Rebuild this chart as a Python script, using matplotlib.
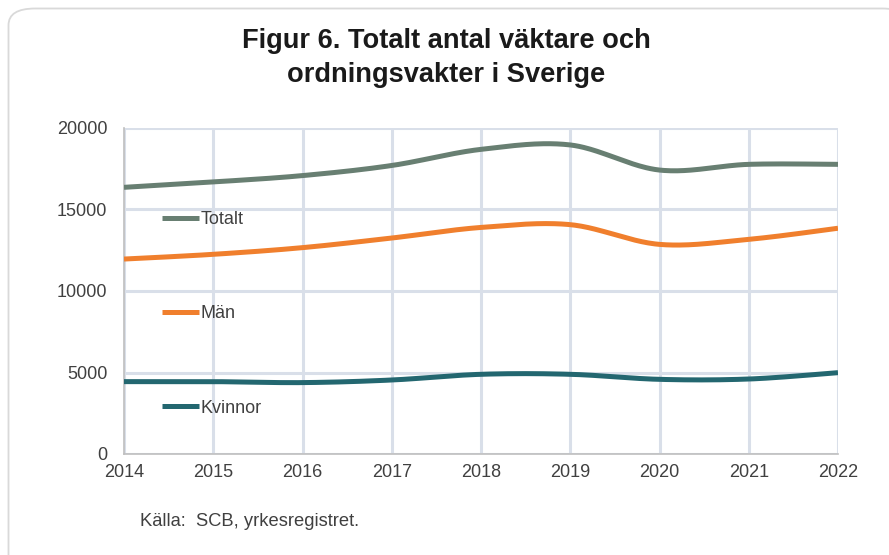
import numpy as np
import matplotlib
matplotlib.use("Agg")
import matplotlib.pyplot as plt
from matplotlib.patches import FancyBboxPatch

plt.rcParams['font.family'] = ['Liberation Sans', 'DejaVu Sans']

years = [2014, 2015, 2016, 2017, 2018, 2019, 2020, 2021, 2022]
totalt = [16360, 16690, 17080, 17700, 18690, 18960, 17420, 17770, 17770]
man = [11960, 12250, 12660, 13250, 13900, 14070, 12860, 13170, 13850]
kvinnor = [4440, 4440, 4380, 4540, 4890, 4890, 4580, 4600, 4990]
series_names = ["Totalt", "Män", "Kvinnor"]
colors = ["#687f72", "#f07f2d", "#236770"]
yticks = [0, 5000, 10000, 15000, 20000]

title = "Figur 6. Totalt antal väktare och\nordningsvakter i Sverige"
source = "Källa:  SCB, yrkesregistret."


def smooth(x, y, n=40):
    """Excel-style smoothed line (Catmull-Rom Bezier through the points)."""
    x = np.asarray(x, float)
    y = np.asarray(y, float)
    P = np.column_stack([x, y])
    Pext = np.vstack([P[0], P, P[-1]])
    out = []
    for i in range(len(P) - 1):
        p0, p1, p2, p3 = Pext[i], Pext[i + 1], Pext[i + 2], Pext[i + 3]
        c1 = p1 + (p2 - p0) / 6.0
        c2 = p2 - (p3 - p1) / 6.0
        t = np.linspace(0, 1, n, endpoint=(i == len(P) - 2))[:, None]
        b = ((1 - t) ** 3) * p1 + 3 * ((1 - t) ** 2) * t * c1 + 3 * (1 - t) * t ** 2 * c2 + t ** 3 * p2
        out.append(b)
    out = np.vstack(out)
    return out[:, 0], out[:, 1]


W, H = 889, 555
fig = plt.figure(figsize=(W / 100, H / 100), dpi=100)

# rounded outer frame
frame = FancyBboxPatch((8.5 / W, -20 / H), (W + 20 - 8.5) / W, (H - 8.5 + 20) / H,
                       boxstyle="round,pad=0,rounding_size=0.03",
                       transform=fig.transFigure, facecolor="white",
                       edgecolor="#d9d9d9", linewidth=1.3, zorder=-5)
fig.patches.append(frame)

ax = fig.add_axes([124 / W, 1 - 454 / H, (838 - 124) / W, (454 - 128) / H])
ax.set_zorder(2)
ax.set_facecolor("none")

for vals, name, c in zip([totalt, man, kvinnor], series_names, colors):
    sx, sy = smooth(years, vals)
    ax.plot(sx, sy, color=c, linewidth=3.6, label=name, solid_capstyle="butt", zorder=3)

ax.set_xlim(years[0], years[-1])
ax.set_ylim(yticks[0], yticks[-1])
ax.set_xticks(years)
ax.set_yticks(yticks)
ax.set_xticklabels([str(y) for y in years])
ax.set_yticklabels([str(v) for v in yticks])
ax.grid(True, color="#d9dfe9", linewidth=2.2, zorder=0)
ax.set_axisbelow(True)
for s in ["top", "right"]:
    ax.spines[s].set_visible(False)
for s in ["left", "bottom"]:
    ax.spines[s].set_color("#bfbfbf")
    ax.spines[s].set_linewidth(1.2)
ax.tick_params(axis="both", length=0, labelsize=13, colors="#404040", pad=7)
ax.tick_params(axis="y", pad=12)

leg = ax.legend(loc="center left", bbox_to_anchor=(0.053, 0.4295), frameon=False,
                fontsize=13, labelcolor="#404040", handlelength=2.05,
                handletextpad=0.1, labelspacing=4.27, borderpad=0, borderaxespad=0)

fig.text(446 / W, 1 - 58 / H, title, ha="center", va="center", fontsize=19.6,
         fontweight="bold", color="#1a1a1a", linespacing=1.36)
fig.text(140 / W, 1 - 522 / H, source, ha="left", va="center", fontsize=13.2,
         color="#404040")

fig.savefig("out.png", dpi=100)
